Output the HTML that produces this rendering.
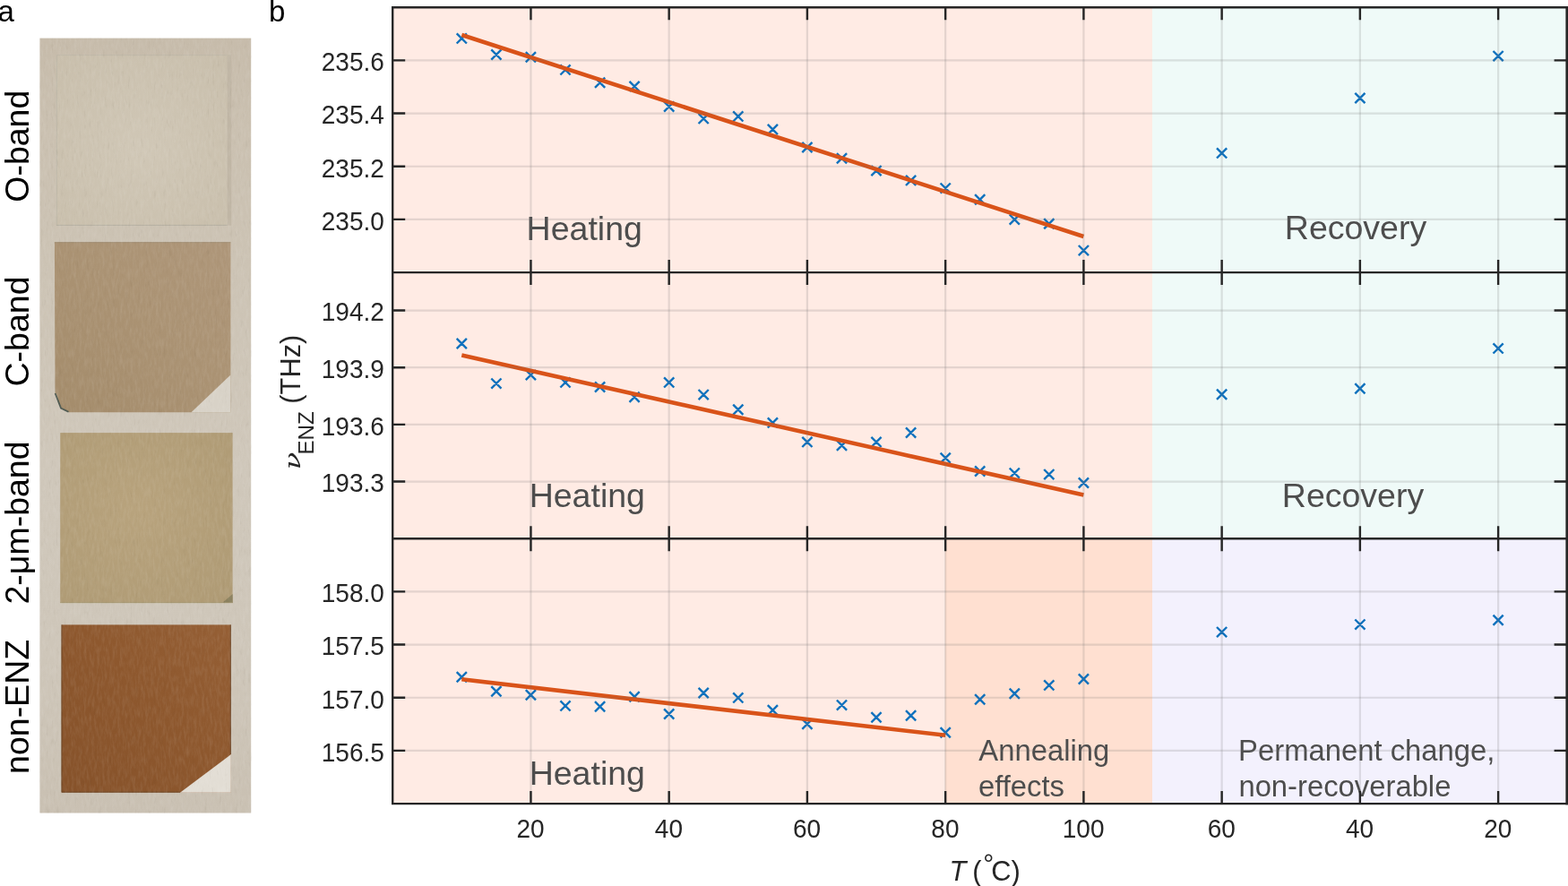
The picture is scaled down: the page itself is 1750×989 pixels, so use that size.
<!DOCTYPE html>
<html lang="en"><head><meta charset="utf-8"><title>ENZ frequency versus temperature</title>
<style>
html,body{margin:0;padding:0;background:#fff;}
body{width:1750px;height:989px;overflow:hidden;}
svg{display:block;}
text{font-family:"Liberation Sans",sans-serif;}
.tk{font-size:28px;fill:#262626;}
.reg{font-size:37.5px;fill:#4d4d4d;}
.reg2{font-size:32.8px;fill:#4d4d4d;}
.side{font-size:37.5px;fill:#000;}
.pl{font-size:33px;fill:#000;}
.lab{font-size:30.8px;fill:#262626;}
</style></head><body>
<svg width="1750" height="989" viewBox="0 0 1750 989">
<rect width="1750" height="989" fill="#fff"/>
<defs>
<linearGradient id="pbg" x1="0" y1="0" x2="0" y2="1"><stop offset="0" stop-color="#c6bbaa"/><stop offset="0.12" stop-color="#cac0b0"/><stop offset="0.3" stop-color="#ccc3b4"/><stop offset="0.55" stop-color="#cfc7ba"/><stop offset="0.8" stop-color="#cec6b9"/><stop offset="1" stop-color="#c9c0b2"/></linearGradient>
<radialGradient id="g1" cx="0.5" cy="0.55" r="0.75"><stop offset="0" stop-color="#d0c7b6"/><stop offset="1" stop-color="#c8beab"/></radialGradient>
<linearGradient id="g2" x1="0" y1="1" x2="1" y2="0"><stop offset="0" stop-color="#a48c6b"/><stop offset="0.6" stop-color="#ab9374"/><stop offset="1" stop-color="#ae9679"/></linearGradient>
<radialGradient id="g3" cx="0.45" cy="0.45" r="0.8"><stop offset="0" stop-color="#b8a37d"/><stop offset="1" stop-color="#ae9a74"/></radialGradient>
<linearGradient id="g4" x1="0" y1="1" x2="1" y2="0"><stop offset="0" stop-color="#86522a"/><stop offset="0.55" stop-color="#8e582e"/><stop offset="1" stop-color="#955f35"/></linearGradient>
<filter id="ptex" x="0" y="0" width="100%" height="100%" color-interpolation-filters="sRGB"><feTurbulence type="fractalNoise" baseFrequency="0.35 0.09" numOctaves="3" seed="7" result="t"/><feColorMatrix in="t" type="matrix" values="0 0 0 0 1  0 0 0 0 1  0 0 0 0 1  1.6 0 0 0 -0.62" result="l"/><feColorMatrix in="t" type="matrix" values="0 0 0 0 0.25  0 0 0 0 0.2  0 0 0 0 0.12  0 -1.6 0 0 0.62" result="d"/><feMerge><feMergeNode in="l"/><feMergeNode in="d"/></feMerge></filter>
</defs>
<rect x="44.4" y="42.6" width="235.8" height="864.9" fill="url(#pbg)"/>
<rect x="62.9" y="61.1" width="190.8" height="190.6" fill="url(#g1)"/>
<path d="M63.4 251.7V61.6H253.2" stroke="#bfb8a8" stroke-width="1" fill="none"/>
<path d="M62.9 251.4H253.7" stroke="#b5afa1" stroke-width="1" fill="none"/>
<rect x="253.7" y="61.1" width="4.5" height="190.6" fill="#c0b6a5"/>
<path d="M60.9 270.2H257.4V460.2H77L68 456L61.5 439.5Z" fill="url(#g2)"/>
<path d="M257.4 418.5L213.5 460.2H257.4Z" fill="#d8d2c7"/>
<path d="M61.6 439L68 455.6L76.5 459.8" stroke="#4f5a52" stroke-width="1.8" fill="none"/>
<path d="M60.9 270.7H257.4" stroke="#96866e" stroke-opacity="0.6" stroke-width="1" fill="none"/>
<rect x="67.2" y="483.1" width="192.4" height="190" fill="url(#g3)"/>
<path d="M259.6 663L248 673.1H259.6Z" fill="#8b815f"/>
<path d="M67.2 672.6H259.6" stroke="#a39572" stroke-opacity="0.7" stroke-width="1" fill="none"/>
<rect x="68.5" y="697.4" width="189.3" height="187.3" fill="url(#g4)"/>
<path d="M69 697.4V884.2H201" stroke="#5a3c22" stroke-opacity="0.6" stroke-width="1" fill="none"/>
<path d="M257.3 697.4V842" stroke="#46301f" stroke-opacity="0.5" stroke-width="1" fill="none"/>
<path d="M257.8 842.1L201 884.7H257.8Z" fill="#e2ddd4"/>
<rect x="44.4" y="42.6" width="235.8" height="864.9" filter="url(#ptex)" opacity="0.11"/>
<text class="pl" x="-2.4" y="23.8">a</text>
<text class="pl" x="300" y="23.8">b</text>
<text class="side" text-anchor="middle" transform="translate(32.2 163.2) rotate(-90)">O-band</text>
<text class="side" text-anchor="middle" transform="translate(32.2 370) rotate(-90)">C-band</text>
<text class="side" text-anchor="middle" transform="translate(32.2 583.5) rotate(-90)">2-μm-band</text>
<text class="side" text-anchor="middle" transform="translate(32.2 788.9) rotate(-90)">non-ENZ</text>
<rect x="438.2" y="8.2" width="847.8" height="888.9" fill="#ffebe4"/>
<rect x="1055" y="601.2" width="231" height="295.9" fill="#ffe0d1"/>
<rect x="1286" y="8.2" width="462.6" height="593" fill="#effaf8"/>
<rect x="1286" y="601.2" width="462.6" height="295.9" fill="#f3f1fd"/>
<path d="M509.7 37.3l11.2 11.2M509.7 48.5l11.2 -11.2M548.3 55.4l11.2 11.2M548.3 66.6l11.2 -11.2M586.8 58.1l11.2 11.2M586.8 69.3l11.2 -11.2M625.4 72.3l11.2 11.2M625.4 83.5l11.2 -11.2M664.0 86.7l11.2 11.2M664.0 97.9l11.2 -11.2M702.5 90.8l11.2 11.2M702.5 102.0l11.2 -11.2M741.1 113.4l11.2 11.2M741.1 124.6l11.2 -11.2M779.6 126.8l11.2 11.2M779.6 138.0l11.2 -11.2M818.2 124.3l11.2 11.2M818.2 135.5l11.2 -11.2M856.8 138.9l11.2 11.2M856.8 150.1l11.2 -11.2M895.3 158.9l11.2 11.2M895.3 170.1l11.2 -11.2M933.9 171.1l11.2 11.2M933.9 182.3l11.2 -11.2M972.4 185.0l11.2 11.2M972.4 196.2l11.2 -11.2M1011.0 195.8l11.2 11.2M1011.0 207.0l11.2 -11.2M1049.6 204.5l11.2 11.2M1049.6 215.7l11.2 -11.2M1088.1 217.1l11.2 11.2M1088.1 228.3l11.2 -11.2M1126.7 239.5l11.2 11.2M1126.7 250.7l11.2 -11.2M1165.2 244.2l11.2 11.2M1165.2 255.4l11.2 -11.2M1203.8 274.0l11.2 11.2M1203.8 285.2l11.2 -11.2M1358.0 165.3l11.2 11.2M1358.0 176.5l11.2 -11.2M1512.3 103.9l11.2 11.2M1512.3 115.1l11.2 -11.2M1666.5 57.0l11.2 11.2M1666.5 68.2l11.2 -11.2M509.7 377.9l11.2 11.2M509.7 389.1l11.2 -11.2M548.3 422.5l11.2 11.2M548.3 433.7l11.2 -11.2M586.8 413.0l11.2 11.2M586.8 424.2l11.2 -11.2M625.4 421.3l11.2 11.2M625.4 432.5l11.2 -11.2M664.0 426.4l11.2 11.2M664.0 437.6l11.2 -11.2M702.5 437.7l11.2 11.2M702.5 448.9l11.2 -11.2M741.1 421.3l11.2 11.2M741.1 432.5l11.2 -11.2M779.6 435.0l11.2 11.2M779.6 446.2l11.2 -11.2M818.2 451.7l11.2 11.2M818.2 462.9l11.2 -11.2M856.8 466.3l11.2 11.2M856.8 477.5l11.2 -11.2M895.3 487.8l11.2 11.2M895.3 499.0l11.2 -11.2M933.9 491.7l11.2 11.2M933.9 502.9l11.2 -11.2M972.4 487.8l11.2 11.2M972.4 499.0l11.2 -11.2M1011.0 477.4l11.2 11.2M1011.0 488.6l11.2 -11.2M1049.6 505.6l11.2 11.2M1049.6 516.8l11.2 -11.2M1088.1 520.4l11.2 11.2M1088.1 531.6l11.2 -11.2M1126.7 522.5l11.2 11.2M1126.7 533.7l11.2 -11.2M1165.2 524.0l11.2 11.2M1165.2 535.2l11.2 -11.2M1203.8 533.4l11.2 11.2M1203.8 544.6l11.2 -11.2M1358.0 434.7l11.2 11.2M1358.0 445.9l11.2 -11.2M1512.3 428.2l11.2 11.2M1512.3 439.4l11.2 -11.2M1666.5 383.3l11.2 11.2M1666.5 394.5l11.2 -11.2M509.7 750.2l11.2 11.2M509.7 761.4l11.2 -11.2M548.3 766.1l11.2 11.2M548.3 777.3l11.2 -11.2M586.8 770.2l11.2 11.2M586.8 781.4l11.2 -11.2M625.4 782.3l11.2 11.2M625.4 793.5l11.2 -11.2M664.0 783.1l11.2 11.2M664.0 794.3l11.2 -11.2M702.5 772.2l11.2 11.2M702.5 783.4l11.2 -11.2M741.1 791.4l11.2 11.2M741.1 802.6l11.2 -11.2M779.6 767.9l11.2 11.2M779.6 779.1l11.2 -11.2M818.2 773.3l11.2 11.2M818.2 784.5l11.2 -11.2M856.8 787.2l11.2 11.2M856.8 798.4l11.2 -11.2M895.3 802.7l11.2 11.2M895.3 813.9l11.2 -11.2M933.9 781.5l11.2 11.2M933.9 792.7l11.2 -11.2M972.4 795.1l11.2 11.2M972.4 806.3l11.2 -11.2M1011.0 793.2l11.2 11.2M1011.0 804.4l11.2 -11.2M1049.6 812.1l11.2 11.2M1049.6 823.3l11.2 -11.2M1088.1 775.2l11.2 11.2M1088.1 786.4l11.2 -11.2M1126.7 768.7l11.2 11.2M1126.7 779.9l11.2 -11.2M1165.2 759.3l11.2 11.2M1165.2 770.5l11.2 -11.2M1203.8 752.4l11.2 11.2M1203.8 763.6l11.2 -11.2M1358.0 700.0l11.2 11.2M1358.0 711.2l11.2 -11.2M1512.3 691.5l11.2 11.2M1512.3 702.7l11.2 -11.2M1666.5 686.7l11.2 11.2M1666.5 697.9l11.2 -11.2" stroke="#0f71bd" stroke-width="2.4" fill="none"/>
<g stroke="#d95319" stroke-width="4.6" fill="none">
<line x1="515.3" y1="39.0" x2="1209.4" y2="264.0"/>
<line x1="515.3" y1="396.4" x2="1209.4" y2="552.6"/>
<line x1="515.3" y1="758.3" x2="1055.2" y2="820.8"/>
</g>
<text class="reg" x="587.6" y="267.6">Heating</text>
<text class="reg" x="590.7" y="565.5">Heating</text>
<text class="reg" x="590.7" y="875.6">Heating</text>
<text class="reg" x="1433.8" y="267.4">Recovery</text>
<text class="reg" x="1430.8" y="565.5">Recovery</text>
<text class="reg2" x="1092.3" y="849.4">Annealing</text>
<text class="reg2" x="1092" y="888.6">effects</text>
<text class="reg2" x="1382.1" y="849.4">Permanent change,</text>
<text class="reg2" x="1382.4" y="888.6">non-recoverable</text>
<g stroke="#707070" stroke-opacity="0.19" stroke-width="2.2" fill="none">
<line x1="592.44" y1="8.2" x2="592.44" y2="897.1"/>
<line x1="746.68" y1="8.2" x2="746.68" y2="897.1"/>
<line x1="900.92" y1="8.2" x2="900.92" y2="897.1"/>
<line x1="1055.16" y1="8.2" x2="1055.16" y2="897.1"/>
<line x1="1209.40" y1="8.2" x2="1209.40" y2="897.1"/>
<line x1="1363.64" y1="8.2" x2="1363.64" y2="897.1"/>
<line x1="1517.88" y1="8.2" x2="1517.88" y2="897.1"/>
<line x1="1672.12" y1="8.2" x2="1672.12" y2="897.1"/>
<line x1="438.2" y1="67.38" x2="1748.6" y2="67.38"/>
<line x1="438.2" y1="126.56" x2="1748.6" y2="126.56"/>
<line x1="438.2" y1="185.74" x2="1748.6" y2="185.74"/>
<line x1="438.2" y1="244.92" x2="1748.6" y2="244.92"/>
<line x1="438.2" y1="346.54" x2="1748.6" y2="346.54"/>
<line x1="438.2" y1="410.21" x2="1748.6" y2="410.21"/>
<line x1="438.2" y1="473.87" x2="1748.6" y2="473.87"/>
<line x1="438.2" y1="537.54" x2="1748.6" y2="537.54"/>
<line x1="438.2" y1="660.38" x2="1748.6" y2="660.38"/>
<line x1="438.2" y1="719.56" x2="1748.6" y2="719.56"/>
<line x1="438.2" y1="778.74" x2="1748.6" y2="778.74"/>
<line x1="438.2" y1="837.92" x2="1748.6" y2="837.92"/>
</g>
<rect x="1747.4" y="7" width="4" height="891.3" fill="#262626"/>
<path d="M437 8.2H1750.6M438.2 304.1H1750.6M438.2 601.2H1750.6M437 897.1H1750.6M438.2 8.2V897.1M592.44 8.2v14M592.44 290.1v28M592.44 587.2v28M592.44 883.1v14M746.68 8.2v14M746.68 290.1v28M746.68 587.2v28M746.68 883.1v14M900.92 8.2v14M900.92 290.1v28M900.92 587.2v28M900.92 883.1v14M1055.16 8.2v14M1055.16 290.1v28M1055.16 587.2v28M1055.16 883.1v14M1209.40 8.2v14M1209.40 290.1v28M1209.40 587.2v28M1209.40 883.1v14M1363.64 8.2v14M1363.64 290.1v28M1363.64 587.2v28M1363.64 883.1v14M1517.88 8.2v14M1517.88 290.1v28M1517.88 587.2v28M1517.88 883.1v14M1672.12 8.2v14M1672.12 290.1v28M1672.12 587.2v28M1672.12 883.1v14M438.2 67.38h14M1748.6 67.38h-14M438.2 126.56h14M1748.6 126.56h-14M438.2 185.74h14M1748.6 185.74h-14M438.2 244.92h14M1748.6 244.92h-14M438.2 346.54h14M1748.6 346.54h-14M438.2 410.21h14M1748.6 410.21h-14M438.2 473.87h14M1748.6 473.87h-14M438.2 537.54h14M1748.6 537.54h-14M438.2 660.38h14M1748.6 660.38h-14M438.2 719.56h14M1748.6 719.56h-14M438.2 778.74h14M1748.6 778.74h-14M438.2 837.92h14M1748.6 837.92h-14" stroke="#262626" stroke-width="2.4" fill="none"/>
<text class="tk" text-anchor="end" transform="translate(428.8 79.2) scale(1 1.055)">235.6</text>
<text class="tk" text-anchor="end" transform="translate(428.8 138.4) scale(1 1.055)">235.4</text>
<text class="tk" text-anchor="end" transform="translate(428.8 197.5) scale(1 1.055)">235.2</text>
<text class="tk" text-anchor="end" transform="translate(428.8 256.7) scale(1 1.055)">235.0</text>
<text class="tk" text-anchor="end" transform="translate(428.8 358.3) scale(1 1.055)">194.2</text>
<text class="tk" text-anchor="end" transform="translate(428.8 422.0) scale(1 1.055)">193.9</text>
<text class="tk" text-anchor="end" transform="translate(428.8 485.7) scale(1 1.055)">193.6</text>
<text class="tk" text-anchor="end" transform="translate(428.8 549.3) scale(1 1.055)">193.3</text>
<text class="tk" text-anchor="end" transform="translate(428.8 672.2) scale(1 1.055)">158.0</text>
<text class="tk" text-anchor="end" transform="translate(428.8 731.4) scale(1 1.055)">157.5</text>
<text class="tk" text-anchor="end" transform="translate(428.8 790.5) scale(1 1.055)">157.0</text>
<text class="tk" text-anchor="end" transform="translate(428.8 849.7) scale(1 1.055)">156.5</text>
<text class="tk" text-anchor="middle" transform="translate(592.1 935.1) scale(1 1.055)">20</text>
<text class="tk" text-anchor="middle" transform="translate(746.4 935.1) scale(1 1.055)">40</text>
<text class="tk" text-anchor="middle" transform="translate(900.6 935.1) scale(1 1.055)">60</text>
<text class="tk" text-anchor="middle" transform="translate(1054.9 935.1) scale(1 1.055)">80</text>
<text class="tk" text-anchor="middle" transform="translate(1209.1 935.1) scale(1 1.055)">100</text>
<text class="tk" text-anchor="middle" transform="translate(1363.3 935.1) scale(1 1.055)">60</text>
<text class="tk" text-anchor="middle" transform="translate(1517.6 935.1) scale(1 1.055)">40</text>
<text class="tk" text-anchor="middle" transform="translate(1671.8 935.1) scale(1 1.055)">20</text>
<text class="lab" y="982.8"><tspan x="1059.5" font-style="italic">T</tspan><tspan x="1085.3">(</tspan><tspan x="1097.3" dy="-9.2" font-size="30px">°</tspan><tspan x="1106.3" dy="9.2">C)</tspan></text>
<g transform="translate(335 523) rotate(-90)">
<text class="lab" transform="scale(1.29 1)" x="-1" y="0" style="font-family:'DejaVu Serif','Liberation Serif',serif;font-style:italic;font-size:25px">ν</text>
<text class="lab" y="0"><tspan x="15.4" dy="15.1" font-size="24.2px">ENZ</tspan><tspan dy="-15.1"> (THz)</tspan></text>
</g>
</svg>
</body></html>
